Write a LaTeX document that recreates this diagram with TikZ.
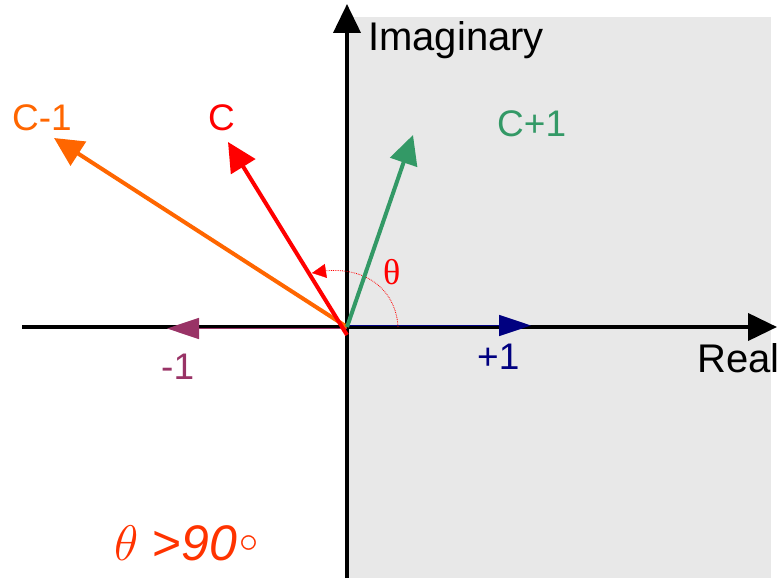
\RequirePackage{fix-cm}
\documentclass[tikz,border=0pt]{standalone}
\usepackage{fontspec}
\setmainfont{Liberation Sans}
\newfontfamily\serifgr{Liberation Serif}
\usetikzlibrary{arrows.meta}
\definecolor{bggray}{HTML}{E8E8E8}
\definecolor{corange}{HTML}{FF6600}
\definecolor{cred}{HTML}{FF0000}
\definecolor{cgreen}{HTML}{339966}
\definecolor{cnavy}{HTML}{000080}
\definecolor{cpurple}{HTML}{993366}
\definecolor{cwarn}{HTML}{FF3300}
\tikzset{
  axisline/.style={line width=4pt,-{Triangle[length=29pt,width=27pt]}},
  vec/.style={line width=4pt,-{Triangle[length=29pt,width=28pt]}},
  unitvec/.style={line width=1.5pt,-{Triangle[length=32pt,width=21pt]}},
  lbl/.style={inner sep=0pt,anchor=base west,font=\fontsize{37}{44}\selectfont},
  axlbl/.style={inner sep=0pt,anchor=base west,font=\fontsize{40}{48}\selectfont},
}
\begin{document}
\begin{tikzpicture}[x=1pt,y=1pt]
\useasboundingbox (0,0) rectangle (778,578);
% half plane
\fill[bggray] (347,0) rectangle (771,561);
% coordinates
\coordinate (O) at (347,251);
\coordinate (xl) at (22,251);
\coordinate (xr) at (777,251);
\coordinate (yb) at (347,0);
\coordinate (yt) at (347,574);
\coordinate (cm1) at (54,440);
\coordinate (c) at (228,436);
\coordinate (cp1) at (413,443);
\coordinate (p1) at (531,252.5);
\coordinate (m1) at (167,249.5);
\coordinate (Op) at (347,252.5);
\coordinate (Om) at (347,249.5);
\coordinate (arcS) at (398,251);
\coordinate (arcE) at (312,305);
% axes
\draw[axisline] (xl) -- (xr);
\draw[axisline] (yb) -- (yt);
% unit vectors
\draw[unitvec,cnavy] (Op) -- (p1);
\draw[unitvec,cpurple] (Om) -- (m1);
% angle arc
\draw[cred,line width=0.8pt,densely dotted] (arcS) .. controls (396,290) and (362,316) .. (arcE);
\draw[cred,-{Triangle[length=14pt,width=14pt]}] (322,306.5) -- (arcE);
% vectors
\draw[vec,corange] (O) -- (cm1);
\draw[vec,cred] (347,243) -- (c);
\draw[vec,cgreen] (O) -- (cp1);
% labels
\node[axlbl] (im) at (368,527) {Imaginary};
\node[axlbl] (re) at (697,205) {Real};
\node[lbl,text=corange] (lcm1) at (12,447) {C-1};
\node[lbl,text=cred] (lc) at (208,447) {C};
\node[lbl,text=cgreen] (lcp1) at (497,441) {C+1};
\node[lbl,text=cnavy] (lp1) at (477,208) {+1};
\node[lbl,text=cpurple] (lm1) at (161,198) {-1};
\node[inner sep=0pt,anchor=base west,text=cred,font=\serifgr\fontsize{36}{40}\selectfont] (th) at (383,293) {θ};
\node[inner sep=0pt,anchor=base west,text=cwarn,font=\fontsize{50}{60}\selectfont] (cond) at (114,18)
  {$\theta$ >\textit{90}\hspace{2pt}\raisebox{8pt}{\fontsize{38}{38}\selectfont$\circ$}};
\end{tikzpicture}
\end{document}
